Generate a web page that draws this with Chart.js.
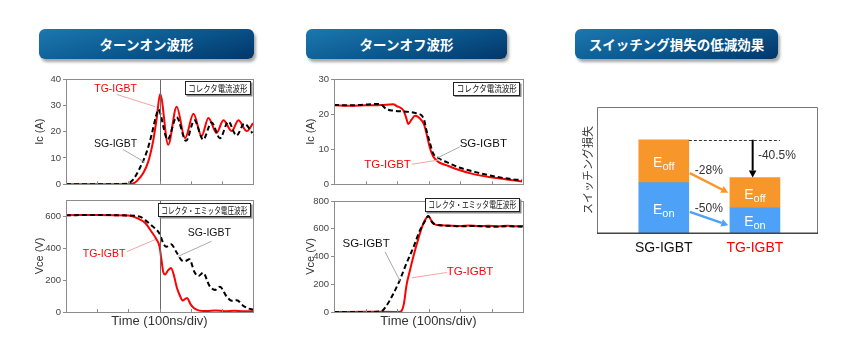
<!DOCTYPE html>
<html><head><meta charset="utf-8">
<script src="https://cdn.jsdelivr.net/npm/chart.js@4.4.1/dist/chart.umd.min.js"></script>
<style>
html,body{margin:0;padding:0;background:#fff;}
body{width:860px;height:359px;position:relative;overflow:hidden;font-family:"Liberation Sans",Arial,sans-serif;}
.hdr{position:absolute;top:29px;height:30px;border-radius:6px;background:linear-gradient(165deg,#1c78b0 0%,#0b5a90 50%,#02366a 100%);box-shadow:2px 3px 3px rgba(0,0,0,0.35);color:#fff;font-weight:bold;font-size:13.5px;font-family:"Noto Sans CJK JP",sans-serif;display:flex;align-items:center;justify-content:center;}
canvas{position:absolute;}
.tag{position:absolute;box-sizing:border-box;border:1px solid #222;background:#fff;box-shadow:1.5px 1.5px 0 #8a8a8a;font-size:9px;font-family:"Noto Sans CJK JP",sans-serif;color:#111;display:flex;align-items:center;justify-content:center;white-space:nowrap;overflow:hidden;}
.tag span{display:inline-block;transform-origin:50% 50%;}
</style></head>
<body>
<div class="hdr" style="left:39px;width:215px;">ターンオン波形</div>
<div class="hdr" style="left:306px;width:201px;">ターンオフ波形</div>
<div class="hdr" style="left:575px;width:203px;">スイッチング損失の低減効果</div>

<canvas id="cA" width="229" height="122" style="left:33px;top:70px;"></canvas>
<canvas id="cB" width="229" height="139" style="left:33px;top:190px;"></canvas>
<canvas id="cC" width="227" height="122" style="left:304px;top:70px;"></canvas>
<canvas id="cD" width="227" height="139" style="left:304px;top:190px;"></canvas>
<canvas id="cE" width="245" height="160" style="left:581px;top:100px;"></canvas>

<div class="tag" style="left:185px;top:81px;width:66px;height:14px;"><span>コレクタ電流波形</span></div>
<div class="tag" style="left:158px;top:203px;width:93px;height:14px;"><span>コレクタ・エミッタ電圧波形</span></div>
<div class="tag" style="left:453px;top:82px;width:67px;height:13.5px;"><span>コレクタ電流波形</span></div>
<div class="tag" style="left:425px;top:198px;width:95px;height:13.5px;"><span>コレクタ・エミッタ電圧波形</span></div>

<script>
// ---------------- DATA ----------------
// time axis: 0..600 ns (100 ns/div)
const divTicks = [100, 200, 300, 400, 500];

// Turn-on collector current (A)
const onIcTimeTG = [0,100,200,216,227,248,264,280,291,302,328,355,382,409,435,457,483,505,532,553,580,600];
const onIcTG     = [0,0,0,0.3,1.2,4.3,8.6,16.7,25,34.3,15,29.5,17.5,26.8,18.3,25.2,19.5,24.3,20.2,24.3,20.2,23.2];
const onIcTimeSG = [0,100,195,216,237,259,275,289,296,326,355,385,412,440,467,494,521,547,572,598];
const onIcSG     = [0,0,0.2,1.9,6.2,12.3,19,26,28.4,17,25.5,16.5,24.3,17,23.5,17.5,23.8,18.5,23,19.5];

// Turn-on collector-emitter voltage (V)
const onVceTimeTG = [0,100,200,230,255,275,290,300,306,312,318,328,337,346,356,366,374,388,400,410,425,450,480,510,540,570,600];
const onVceTG     = [605,607,603,585,555,500,455,410,330,250,235,262,275,230,150,100,72,88,48,25,10,6,10,5,8,4,5];
const onVceTimeSG = [0,100,200,237,260,280,300,312,322,337,355,370,382,396,412,425,440,460,478,494,515,532,548,568,585,600];
const onVceSG     = [605,606,603,596,565,532,490,430,408,423,372,325,318,330,250,225,245,165,138,158,98,70,74,40,22,15];

// Turn-off collector current (A)
const offIcTimeTG = [0,50,100,150,188,199,220,228,236,246,257,271,286,294,305,315,331,358,390,443,496,549,597];
const offIcTG     = [22.5,22.4,22.5,22.6,22.8,22.3,21.1,19.3,17.2,18.4,19.5,18.9,17,14.3,10.2,7.9,6.4,5.4,4.3,2.9,2.0,1.4,0.8];
const offIcTimeSG = [0,50,100,145,167,188,230,262,284,294,305,315,331,358,400,453,507,560,597];
const offIcSG     = [22.6,22.5,22.7,22.9,21.4,21,20.7,20.2,18.9,15.2,11.6,8.8,7.5,6.3,4.7,3.4,2.3,1.5,1.2];

// Turn-off collector-emitter voltage (V)
const offVceTimeTG = [0,100,200,208,215,222,230,240,252,268,284,294,300,310,322,340,370,400,430,460,490,520,550,580,600];
const offVceTG     = [0,2,0,2,10,60,190,290,400,530,640,680,690,655,630,625,622,620,624,618,622,617,621,618,620];
const offVceTimeSG = [0,100,150,165,188,209,230,252,273,289,299,312,326,360,400,450,500,550,600];
const offVceSG     = [0,0,5,40,130,230,350,465,590,655,692,645,628,622,618,620,615,618,615];

// Switching loss (relative units)
const lossCategories = ['SG-IGBT', 'TG-IGBT'];
const lossEon  = [1.0, 0.5];
const lossEoff = [0.85, 0.6];
const lossLabels = {eoff: '-28%', eon: '-50%', total: '-40.5%'};

// ---------------- HELPERS ----------------
const F = '"Liberation Sans", Arial, sans-serif';
const pts = (ts, vs) => ts.map((t, i) => ({x: t, y: vs[i]}));

function decor(cfg) {
  return {
    id: 'decor',
    afterDatasetsDraw(chart) {
      const {ctx, chartArea: a, scales: {x, y}} = chart;
      ctx.save();
      if (cfg.vline != null) {
        const px = Math.round(x.getPixelForValue(cfg.vline)) + 0.5;
        ctx.strokeStyle = '#6a6a6a'; ctx.lineWidth = 1;
        ctx.beginPath(); ctx.moveTo(px, a.top); ctx.lineTo(px, a.bottom); ctx.stroke();
      }
      ctx.strokeStyle = '#8c8c8c'; ctx.lineWidth = 1;
      divTicks.forEach(v => {
        const px = Math.round(x.getPixelForValue(v)) + 0.5;
        ctx.beginPath(); ctx.moveTo(px, a.bottom); ctx.lineTo(px, a.bottom - 3); ctx.stroke();
      });
      ctx.strokeStyle = '#8c8c8c';
      ctx.strokeRect(Math.round(a.left) + 0.5, Math.round(a.top) + 0.5, Math.round(a.right - a.left), Math.round(a.bottom - a.top));
      cfg.notes.forEach(n => {
        ctx.strokeStyle = n.lineColor; ctx.lineWidth = 1;
        ctx.beginPath();
        ctx.moveTo(x.getPixelForValue(n.x1), y.getPixelForValue(n.y1));
        ctx.lineTo(x.getPixelForValue(n.x2), y.getPixelForValue(n.y2));
        ctx.stroke();
        ctx.fillStyle = n.color;
        ctx.font = n.size + 'px ' + F;
        ctx.textAlign = 'center'; ctx.textBaseline = 'middle';
        ctx.fillText(n.text, x.getPixelForValue(n.tx), y.getPixelForValue(n.ty));
      });
      ctx.restore();
    }
  };
}

function lineChart(id, cfg) {
  return new Chart(document.getElementById(id), {
    type: 'line',
    data: {datasets: [
      {label: 'SG-IGBT', data: pts(cfg.sgT, cfg.sgV), borderColor: '#000', borderWidth: 2, borderDash: [5, 3], pointRadius: 0, cubicInterpolationMode: 'monotone', fill: false},
      {label: 'TG-IGBT', data: pts(cfg.tgT, cfg.tgV), borderColor: '#ff0000', borderWidth: 2, pointRadius: 0, cubicInterpolationMode: 'monotone', fill: false}
    ]},
    options: {
      responsive: false, animation: false, events: [],
      layout: {padding: cfg.pad},
      plugins: {legend: {display: false}, tooltip: {enabled: false}},
      scales: {
        x: {type: 'linear', min: 0, max: 600, display: !!cfg.xTitle,
            ticks: {display: false}, grid: {display: false, drawTicks: false}, border: {display: false},
            title: {display: !!cfg.xTitle, text: cfg.xTitle || '', font: {family: F, size: 13}, color: '#333', padding: 0},
            afterFit(s) { if (cfg.xH != null) s.height = cfg.xH; }},
        y: {min: 0, max: cfg.yMax,
            ticks: {stepSize: cfg.yStep, includeBounds: false, font: {family: F, size: 9.5}, color: '#444', padding: 2},
            grid: {display: true, drawOnChartArea: false, drawTicks: true, tickLength: 3, color: '#8c8c8c'},
            border: {display: false},
            title: {display: true, text: cfg.yTitle, font: {family: F, size: 11}, color: '#333', padding: 0},
            afterFit(s) { s.width = cfg.yW; }}
      }
    },
    plugins: [decor(cfg)]
  });
}

const pink = '#f5a3a3', grey = '#aaaaaa';

lineChart('cA', {
  tgT: onIcTimeTG, tgV: onIcTG, sgT: onIcTimeSG, sgV: onIcSG,
  yMax: 40, yStep: 10, yTitle: 'Ic (A)', yW: 33, pad: {left: 0, right: 9, top: 9, bottom: 4},
  vline: 300,
  notes: [
    {text: 'TG-IGBT', color: '#ff0000', lineColor: pink, size: 10.5, tx: 159, ty: 36.3, x1: 164, y1: 34.1, x2: 286, y2: 29.5},
    {text: 'SG-IGBT', color: '#111', lineColor: grey, size: 10.5, tx: 159, ty: 15.4, x1: 183, y1: 13.2, x2: 253, y2: 8.4}
  ]
});
lineChart('cB', {
  tgT: onVceTimeTG, tgV: onVceTG, sgT: onVceTimeSG, sgV: onVceSG,
  yMax: 700, yStep: 200, yTitle: 'Vce (V)', yW: 33, pad: {left: 0, right: 9, top: 10, bottom: 0},
  xTitle: 'Time (100ns/div)', xH: 17, vline: 300,
  notes: [
    {text: 'TG-IGBT', color: '#ff0000', lineColor: pink, size: 10.5, tx: 122, ty: 364, x1: 195, y1: 377, x2: 286, y2: 453},
    {text: 'SG-IGBT', color: '#111', lineColor: grey, size: 10.5, tx: 460, ty: 491, x1: 467, y1: 442, x2: 359, y2: 347}
  ]
});
lineChart('cC', {
  tgT: offIcTimeTG, tgV: offIcTG, sgT: offIcTimeSG, sgV: offIcSG,
  yMax: 30, yStep: 10, yTitle: 'Ic (A)', yW: 30, pad: {left: 0, right: 8, top: 9, bottom: 3},
  vline: null,
  notes: [
    {text: 'SG-IGBT', color: '#111', lineColor: grey, size: 11.5, tx: 474, ty: 11.5, x1: 400, y1: 10.7, x2: 328, y2: 7.5},
    {text: 'TG-IGBT', color: '#ff0000', lineColor: pink, size: 11.5, tx: 170, ty: 5.5, x1: 247, y1: 5.7, x2: 337, y2: 7.0}
  ]
});
lineChart('cD', {
  tgT: offVceTimeTG, tgV: offVceTG, sgT: offVceTimeSG, sgV: offVceSG,
  yMax: 800, yStep: 200, yTitle: 'Vce (V)', yW: 30, pad: {left: 0, right: 8, top: 11, bottom: 0},
  xTitle: 'Time (100ns/div)', xH: 17, vline: null,
  notes: [
    {text: 'SG-IGBT', color: '#111', lineColor: grey, size: 11.5, tx: 102, ty: 489, x1: 162, y1: 434, x2: 210, y2: 222},
    {text: 'TG-IGBT', color: '#ff0000', lineColor: pink, size: 11.5, tx: 432, ty: 290, x1: 358, y1: 285, x2: 247, y2: 246}
  ]
});

// ---------------- SWITCHING LOSS BAR CHART ----------------
const orange = '#f7962a', blue = '#4da1f7';
function arrow(ctx, x1, y1, x2, y2, color, w) {
  const ang = Math.atan2(y2 - y1, x2 - x1), hl = 7, hw = 3.8;
  const bx = x2 - hl * Math.cos(ang), by = y2 - hl * Math.sin(ang);
  ctx.strokeStyle = color; ctx.fillStyle = color; ctx.lineWidth = w; ctx.setLineDash([]);
  ctx.beginPath(); ctx.moveTo(x1, y1); ctx.lineTo(bx, by); ctx.stroke();
  ctx.beginPath(); ctx.moveTo(x2, y2);
  ctx.lineTo(bx + hw * Math.sin(ang), by - hw * Math.cos(ang));
  ctx.lineTo(bx - hw * Math.sin(ang), by + hw * Math.cos(ang));
  ctx.closePath(); ctx.fill();
}
const barDecor = {
  id: 'barDecor',
  afterDatasetsDraw(chart) {
    const {ctx, chartArea: a, scales: {x, y}} = chart;
    const X = v => x.getPixelForValue(v), Y = v => y.getPixelForValue(v);
    ctx.save();
    // frame
    ctx.strokeStyle = '#777'; ctx.lineWidth = 1;
    ctx.beginPath();
    ctx.moveTo(Math.round(a.left) + 0.5, Math.round(a.bottom));
    ctx.lineTo(Math.round(a.left) + 0.5, Math.round(a.top) + 0.5);
    ctx.lineTo(Math.round(a.right) - 0.5, Math.round(a.top) + 0.5);
    ctx.lineTo(Math.round(a.right) - 0.5, Math.round(a.bottom));
    ctx.stroke();
    ctx.strokeStyle = '#444'; ctx.lineWidth = 1.5;
    ctx.beginPath(); ctx.moveTo(a.left, Math.round(a.bottom) + 0.25); ctx.lineTo(a.right, Math.round(a.bottom) + 0.25); ctx.stroke();
    // segment labels E_on / E_off
    [['on', 0], ['off', 1]].forEach(([sub, d]) => {
      chart.getDatasetMeta(d).data.forEach(bar => {
        const cy = (bar.y + bar.base) / 2;
        ctx.fillStyle = '#fff'; ctx.textBaseline = 'alphabetic'; ctx.textAlign = 'left';
        ctx.font = '14px ' + F; const wE = ctx.measureText('E').width;
        ctx.font = '11px ' + F; const wS = ctx.measureText(sub).width;
        const sx = bar.x - (wE + wS) / 2;
        ctx.font = '14px ' + F; ctx.fillText('E', sx, cy + 6);
        ctx.font = '11px ' + F; ctx.fillText(sub, sx + wE, cy + 9);
      });
    });
    const totSG = lossEon[0] + lossEoff[0], totTG = lossEon[1] + lossEoff[1];
    // dashed reference line
    ctx.strokeStyle = '#333'; ctx.lineWidth = 1; ctx.setLineDash([3, 2]);
    ctx.beginPath(); ctx.moveTo(X(0.275), Math.round(Y(totSG)) + 0.5); ctx.lineTo(X(1.274), Math.round(Y(totSG)) + 0.5); ctx.stroke();
    ctx.setLineDash([]);
    // arrows
    arrow(ctx, X(0.286), Y(1.19), X(0.707), Y(0.80), orange, 2.5);
    arrow(ctx, X(0.286), Y(0.42), X(0.707), Y(0.154), blue, 2.5);
    arrow(ctx, X(0.975), Y(totSG), X(0.975), Y(totTG), '#000', 2);
    // percent labels
    ctx.fillStyle = '#333'; ctx.font = '12px ' + F; ctx.textBaseline = 'middle';
    ctx.textAlign = 'center';
    ctx.fillText(lossLabels.eoff, X(0.494), Y(1.23));
    ctx.fillText(lossLabels.eon, X(0.494), Y(0.484));
    ctx.textAlign = 'left';
    ctx.fillText(lossLabels.total, X(1.033), Y(1.53));
    ctx.restore();
  }
};
const catColors = ['#111111', '#ff0000'];
new Chart(document.getElementById('cE'), {
  type: 'bar',
  data: {datasets: [
    {label: 'Eon', data: lossEon.map((v, i) => ({x: i, y: v})), backgroundColor: blue, barThickness: 50},
    {label: 'Eoff', data: lossEoff.map((v, i) => ({x: i, y: v})), backgroundColor: orange, barThickness: 50}
  ]},
  options: {
    responsive: false, animation: false, events: [],
    layout: {padding: {left: 0, right: 8, top: 7, bottom: 0}},
    plugins: {legend: {display: false}, tooltip: {enabled: false}},
    scales: {
      x: {type: 'linear', min: -0.733, max: 1.692, stacked: true, offset: false,
          afterBuildTicks(s) { s.ticks = lossCategories.map((c, i) => ({value: i})); },
          ticks: {callback: (v, i) => lossCategories[i], font: {family: F, size: 14}, color: ctx => catColors[ctx.index], padding: 7, maxRotation: 0, autoSkip: false},
          grid: {display: false, drawTicks: false, offset: false}, border: {display: false},
          afterFit(s) { s.height = 27; }},
      y: {min: 0, max: 2.5, stacked: true,
          ticks: {display: false}, grid: {display: false, drawTicks: false}, border: {display: false},
          title: {display: true, text: 'スイッチング損失', font: {family: '"Noto Sans CJK JP", sans-serif', size: 11}, color: '#333', padding: 0},
          afterFit(s) { s.width = 16; }}
    }
  },
  plugins: [barDecor]
});

// fit the small waveform tags to their boxes
function fitTags() {
  document.querySelectorAll('.tag span').forEach(s => {
    s.style.transform = 'none';
    const target = s.parentElement.clientWidth - 5;
    const w = s.getBoundingClientRect().width;
    if (w > 0) s.style.transform = 'scaleX(' + (target / w) + ')';
  });
}
fitTags();
if (document.fonts && document.fonts.ready) document.fonts.ready.then(fitTags);
</script>
</body></html>
